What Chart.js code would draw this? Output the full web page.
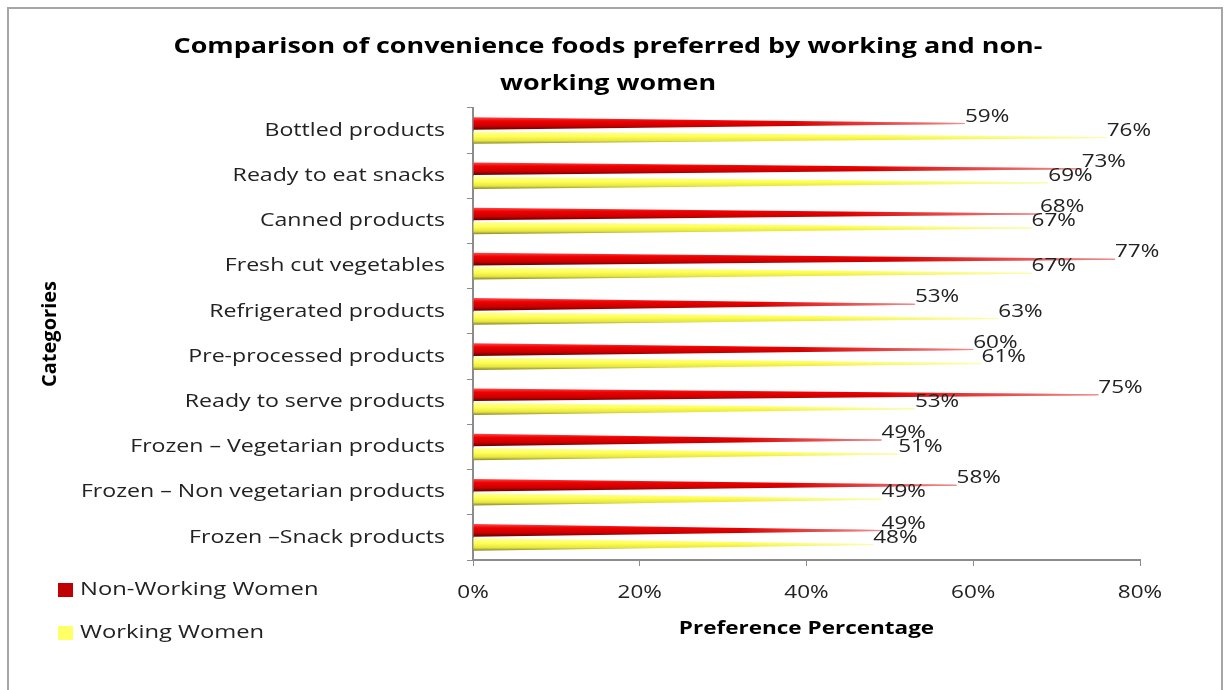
<!DOCTYPE html>
<html>
<head>
<meta charset="utf-8">
<script src="https://cdn.jsdelivr.net/npm/chart.js@4"></script>
<style>
  body { margin: 0; background: #fff; }
  .chart-box { position: relative; width: 1225px; height: 690px; }
</style>
</head>
<body>
<div class="chart-box">
    <canvas id="foodsChart"></canvas>
</div>

<script>
const categories = ['Bottled products', 'Ready to eat snacks', 'Canned products', 'Fresh cut vegetables', 'Refrigerated products', 'Pre-processed products', 'Ready to serve products', 'Frozen \u2013 Vegetarian products', 'Frozen \u2013 Non vegetarian products', 'Frozen \u2013Snack products'];
const nonWorking = [59, 73, 68, 77, 53, 60, 75, 49, 58, 49];
const working = [76, 69, 67, 67, 63, 61, 53, 51, 49, 48];
const xTicks = [0, 20, 40, 60, 80];

const FONT = "'Open Sans', 'Liberation Sans', sans-serif";
const STRETCH = 1.25; // the original lettering is drawn wide

const canvas = document.getElementById('foodsChart');
const ctx = canvas.getContext('2d');

// horizontally stretched text, anchored where it was asked for,
// so left / right / centre alignment still holds
const plainFill = ctx.fillText.bind(ctx);
ctx.fillText = function(text, x, y, maxWidth) {
    this.save();
    this.translate(x, y);
    this.scale(STRETCH, 1);
    if (maxWidth === undefined) plainFill(text, 0, 0);
    else plainFill(text, 0, 0, maxWidth / STRETCH);
    this.restore();
};

// cone shaped bars, like the 3D cone bars of the original
const coneBars = {
    id: 'coneBars',
    beforeDatasetDraw(chart, args) {
        const c = chart.ctx;
        const isRed = args.index === 0;
        args.meta.data.forEach(el => {
            const p = el.getProps(['x', 'y', 'base', 'height'], true);
            const h = p.height, top = p.y - h / 2, bot = p.y + h / 2;
            const g = c.createLinearGradient(0, top, 0, bot);
            if (isRed) {
                g.addColorStop(0, '#ff4a4a');
                g.addColorStop(0.3, '#f00000');
                g.addColorStop(0.7, '#c80000');
                g.addColorStop(1, '#600000');
            } else {
                g.addColorStop(0, '#ffffa8');
                g.addColorStop(0.4, '#ffff55');
                g.addColorStop(0.75, '#e6e640');
                g.addColorStop(1, '#85852c');
            }
            c.save();
            c.beginPath();
            c.moveTo(p.base, top);
            c.lineTo(p.x, p.y - 0.5);
            c.lineTo(p.x, p.y + 0.5);
            c.lineTo(p.base, bot);
            c.closePath();
            c.fillStyle = g;
            c.fill();
            // fade toward the tip
            const f = c.createLinearGradient(p.base, 0, p.x, 0);
            f.addColorStop(0, 'rgba(255,255,255,0)');
            f.addColorStop(0.65, 'rgba(255,255,255,0)');
            f.addColorStop(1, 'rgba(255,255,255,0.55)');
            c.fillStyle = f;
            c.fill();
            c.restore();
        });
        return false;
    },
    afterDatasetsDraw(chart) {
        const c = chart.ctx;
        c.save();
        c.font = '18px ' + FONT;
        c.fillStyle = '#222';
        c.textAlign = 'left';
        c.textBaseline = 'middle';
        chart.data.datasets.forEach((ds, i) => {
            chart.getDatasetMeta(i).data.forEach((el, j) => {
                c.fillText(ds.data[j] + '%', el.x, el.y - 7);
            });
        });
        c.restore();
    }
};

// legend in the lower left corner, upright y title and the outer frame
const extras = {
    id: 'extras',
    afterDraw(chart) {
        const c = chart.ctx;
        const area = chart.chartArea;
        c.save();
        c.font = '19px ' + FONT;
        c.textBaseline = 'middle';
        c.textAlign = 'left';
        chart.data.datasets.forEach((ds, i) => {
            const y = 590 + i * 43;
            c.fillStyle = ds.backgroundColor;
            c.fillRect(58, y - 7, 15, 14);
            c.fillStyle = '#222';
            c.fillText(ds.label, 80, y);
        });

        // the rotated title is not stretched in the original
        c.translate(50, (area.top + area.bottom) / 2);
        c.rotate(-Math.PI / 2);
        c.textAlign = 'center';
        c.font = 'bold 20px ' + FONT;
        c.fillStyle = '#000';
        plainFill('Categories', 0, 0);
        c.setTransform(1, 0, 0, 1, 0, 0);

        c.strokeStyle = '#a6a6a6';
        c.lineWidth = 2;
        c.strokeRect(8, 8, 1214, 700);
        c.restore();
    }
};

new Chart(ctx, {
    type: 'bar',
    data: {
        labels: categories,
        datasets: [
            { label: 'Non-Working Women', data: nonWorking, backgroundColor: '#c00000' },
            { label: 'Working Women', data: working, backgroundColor: '#ffff66' }
        ]
    },
    options: {
        indexAxis: 'y',
        responsive: true,
        maintainAspectRatio: false,
        animation: false,
        categoryPercentage: 0.62,
        barPercentage: 0.9,
        layout: { padding: { top: 20, left: 30, right: 39, bottom: 40 } },
        scales: {
            x: {
                min: 0,
                max: 80,
                afterBuildTicks: scale => { scale.ticks = xTicks.map(v => ({ value: v })); },
                afterFit: scale => { scale.height = 90; },
                ticks: {
                    callback: v => v + '%',
                    color: '#222',
                    padding: 16,
                    font: { family: FONT, size: 18 }
                },
                grid: { drawOnChartArea: false, tickLength: 6, color: '#8c8c8c' },
                border: { color: '#8c8c8c', width: 2 },
                title: {
                    display: true,
                    text: 'Preference Percentage',
                    color: '#000',
                    padding: 10,
                    font: { family: FONT, size: 18, weight: 'bold' }
                }
            },
            y: {
                afterFit: scale => { scale.width = 443; },
                ticks: {
                    color: '#222',
                    padding: 22,
                    font: { family: FONT, size: 18.5 }
                },
                grid: { drawOnChartArea: false, tickLength: 6, color: '#8c8c8c' },
                border: { color: '#8c8c8c', width: 2 }
            },
            // empty strip on the right so the title sits where the original has it
            rightGap: {
                axis: 'y',
                type: 'category',
                position: 'right',
                afterFit: scale => { scale.width = 46; },
                ticks: { display: false },
                grid: { display: false },
                border: { display: false }
            }
        },
        plugins: {
            legend: { display: false },
            tooltip: { enabled: false },
            title: {
                display: true,
                text: ['Comparison of convenience foods preferred by working and non-', 'working women'],
                color: '#000',
                padding: { top: 8, bottom: 6 },
                font: { family: FONT, size: 21.5, weight: 'bold', lineHeight: 1.72 }
            }
        }
    },
    plugins: [coneBars, extras]
});
</script>
</body>
</html>
